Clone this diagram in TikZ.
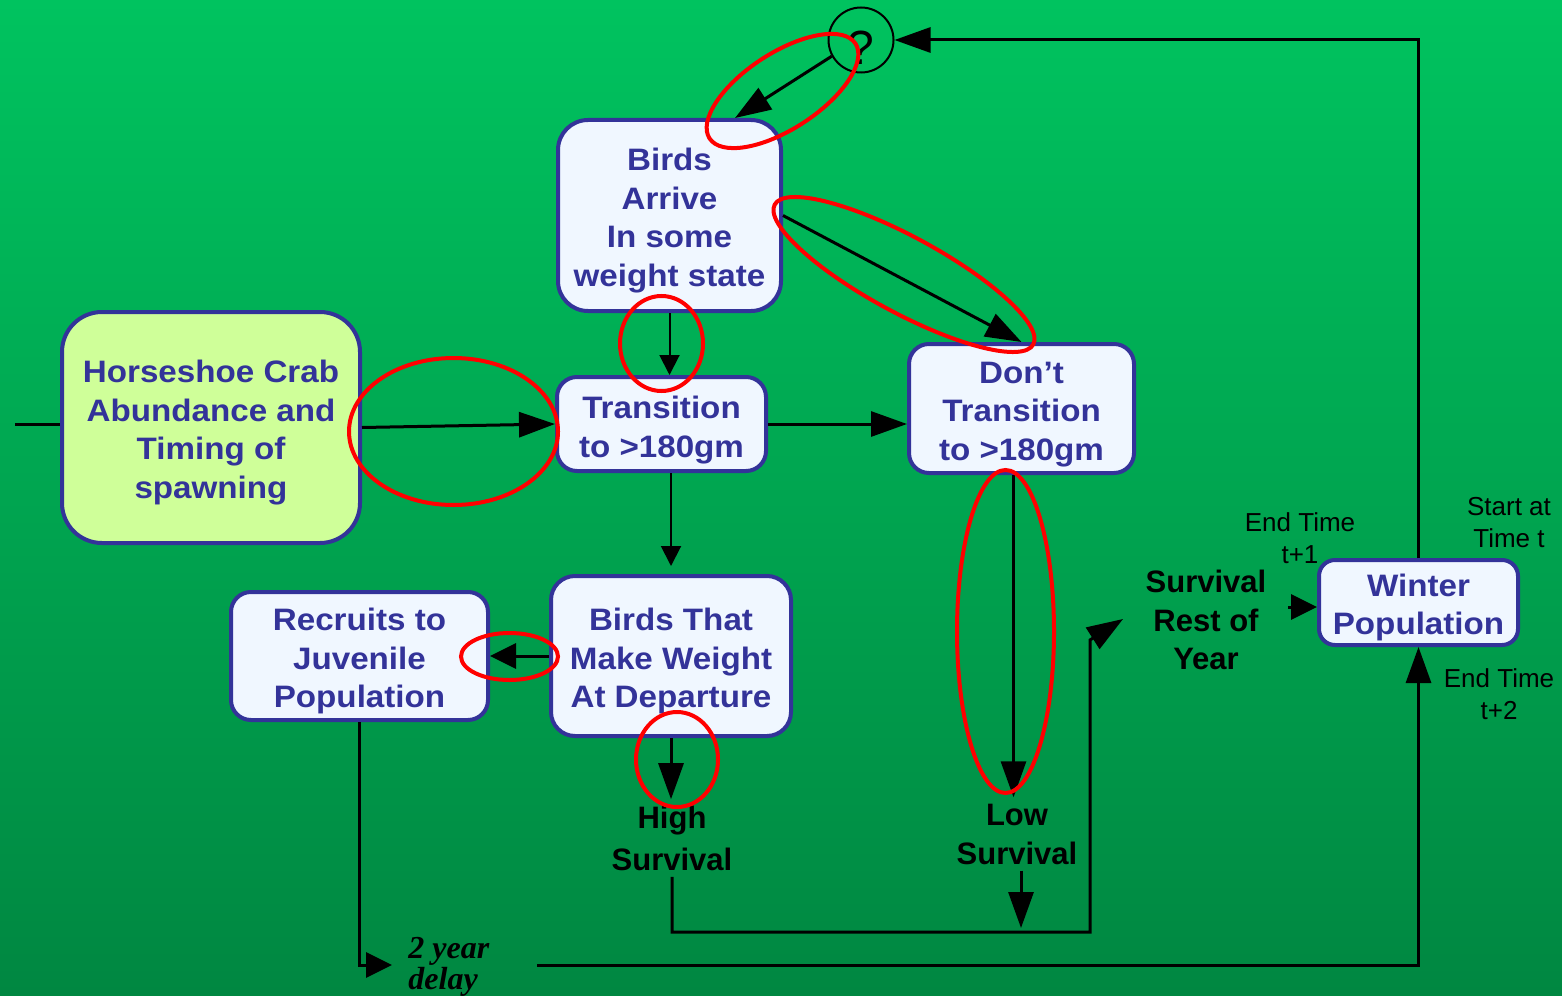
\documentclass[tikz,border=0pt]{standalone}
\usepackage{fontspec}
\setmainfont{Liberation Sans}
\newfontfamily\boxfont{Liberation Sans}[FakeStretch=1.07]
\newfontfamily\delayfont{Liberation Serif}
\usetikzlibrary{arrows.meta}
\definecolor{navy}{RGB}{51,51,153}
\definecolor{boxfill}{RGB}{240,247,255}
\definecolor{crabfill}{RGB}{207,255,153}
\definecolor{bgtop}{RGB}{0,195,95}
\definecolor{bgbot}{RGB}{0,135,65}
\tikzset{
  flowbox/.style={draw=navy, line width=2pt, fill=boxfill, inner sep=0pt},
  boxtext/.style={text=navy, font=\boxfont\bfseries\fontsize{15.5}{19.25}\selectfont, align=center, inner sep=0pt},
  lbl/.style={text=black, font=\bfseries\fontsize{15.5}{19.25}\selectfont, align=center, inner sep=3pt},
  smalllbl/.style={text=black, font=\fontsize{13}{16}\selectfont, align=center, inner sep=0pt},
  bigarrow/.style={line width=1.5pt, -{Triangle[length=18pt,width=12.5pt]}},
  midarrow/.style={line width=1.5pt, -{Triangle[length=13pt,width=12.5pt]}},
  thinarrow/.style={line width=1pt, -{Triangle[length=10pt,width=10pt]}},
  plainline/.style={line width=1.5pt},
  redmark/.style={draw=red, line width=2pt}
}
\begin{document}
\begin{tikzpicture}[x=0.5pt,y=-0.5pt]
\shade[top color=bgtop,bottom color=bgbot] (0,0) rectangle (1562,995);
\useasboundingbox (0,0) rectangle (1562,995);

% boxes
\node[flowbox, minimum width=111.5pt, minimum height=95.5pt, rounded corners=15pt] (arrive) at (669.5,215.5) {};
\node[flowbox, fill=crabfill, minimum width=149pt, minimum height=115.5pt, rounded corners=20pt] (crab) at (211,427.5) {};
\node[flowbox, minimum width=104.5pt, minimum height=47pt, rounded corners=10pt] (trans) at (661.5,424) {};
\node[flowbox, minimum width=112.5pt, minimum height=64.5pt, rounded corners=10pt] (dont) at (1021.5,408.5) {};
\node[flowbox, minimum width=120pt, minimum height=80pt, rounded corners=12pt] (make) at (671,656) {};
\node[flowbox, minimum width=128.5pt, minimum height=64pt, rounded corners=10pt] (recruits) at (359.5,656) {};
\node[flowbox, minimum width=99.5pt, minimum height=42.5pt, rounded corners=8pt] (winter) at (1418.5,602.5) {};

% box texts
\node[boxtext] (arrivetxt) at ([yshift=-2.5pt]arrive.center) {Birds\\Arrive\\In some\\weight state};
\node[boxtext] (crabtxt) at ([yshift=-2.5pt]crab.center) {Horseshoe Crab\\Abundance and\\Timing of\\spawning};
\node[boxtext] (transtxt) at ([yshift=-3pt]trans.center) {Transition\\to >180gm};
\node[boxtext] (donttxt) at ([yshift=-3pt]dont.center) {Don’t\\Transition\\to >180gm};
\node[boxtext] (maketxt) at ([yshift=-2.5pt]make.center) {Birds That\\Make Weight\\At Departure};
\node[boxtext] (recruitstxt) at ([yshift=-2.5pt]recruits.center) {Recruits to\\Juvenile\\Population};
\node[boxtext] (wintertxt) at ([yshift=-2.5pt]winter.center) {Winter\\Population};

% question circle
\node[draw=black, line width=1pt, circle, minimum size=32.5pt, inner sep=0pt] (q) at (861,40) {};
\node[inner sep=0pt, font=\fontsize{24}{24}\selectfont] (qtxt) at ([yshift=-4pt]q.center) {?};

% labels
\node[lbl, font=\bfseries\fontsize{15.5}{21}\selectfont] (high) at (672,838) {High\\Survival};
\node[lbl, font=\bfseries\fontsize{15.5}{19.5}\selectfont] (low) at (1017,834) {Low\\Survival};
\node[lbl] (rest) at (1206,620) {Survival\\Rest of\\Year};
\node[smalllbl] (e1) at (1300,538) {End Time\\t+1};
\node[smalllbl] (st) at (1509,523) {Start at\\Time t};
\node[smalllbl] (e2) at (1499,694) {End Time\\t+2};
\node[anchor=west, align=left, inner sep=0pt, font=\delayfont\bfseries\itshape\fontsize{16}{13.5}\selectfont] (delay) at (408,967) {2 year\\delay};

% coordinates
\coordinate (lin) at (15,424);
\coordinate (atip) at (735,118);
\coordinate (topr) at (1418,40);
\coordinate (hb) at (672,932);
\coordinate (rb) at (1090,932);
\coordinate (rt) at (1090,640);
\coordinate (rtip) at (1123,619);
\coordinate (lowend) at (1021,928);
\coordinate (rs) at (1288,607);
\coordinate (recb) at (359.5,965);
\coordinate (rectip) at (392,965);
\coordinate (dl) at (537,965);
\coordinate (dr) at (1418.5,965);

% connectors
\draw[plainline] (lin) -- (lin -| crab.west);
\draw[bigarrow] (crab.east) -- (trans.west);
\draw[thinarrow] (arrive.south) -- (arrive.south |- trans.north);
\draw[bigarrow] (arrive.east) -- (dont.north);
\draw[bigarrow] (trans.east) -- (trans.east -| dont.west);
\draw[thinarrow, shorten >=4pt] (trans.south -| make.north) -- (make.north);
\draw[midarrow] (make.west) -- (recruits.east);
\draw[bigarrow] (make.south) -- (make.south |- high.north);
\draw[bigarrow] ([xshift=-4pt]dont.south) -- ([xshift=-4pt]dont.south |- low.north);
\draw[bigarrow] (low.south -| lowend) -- (lowend);
\draw[bigarrow, line join=miter] (high.south) -- (hb) -- (rb) -- (rt) -- (rtip);
\draw[midarrow] (rs) -- (rs -| winter.west);
\draw[midarrow] (recruits.south) -- (recb) -- (rectip);
\draw[bigarrow] (dl) -- (dr) -- (winter.south);
\draw[bigarrow] (winter.north) -- (winter.north |- topr) -- (q.east);
\draw[bigarrow] (q.209) -- (atip);

% red annotation ellipses
\draw[redmark, rotate around={33:(782.5,91)}] (782.5,91) ellipse [x radius=87, y radius=38];
\draw[redmark, rotate around={-28.4:(904,274.5)}] (904,274.5) ellipse [x radius=147, y radius=38];
\draw[redmark] (661.5,343.5) ellipse [x radius=41.5, y radius=47.5];
\draw[redmark] (453.5,431.5) ellipse [x radius=104.5, y radius=73.5];
\draw[redmark] (509.5,656.5) ellipse [x radius=48.5, y radius=23.5];
\draw[redmark] (677,759.5) ellipse [x radius=41, y radius=47.5];
\draw[redmark] (1005.5,631.5) ellipse [x radius=48.5, y radius=161.5];
\end{tikzpicture}
\end{document}
